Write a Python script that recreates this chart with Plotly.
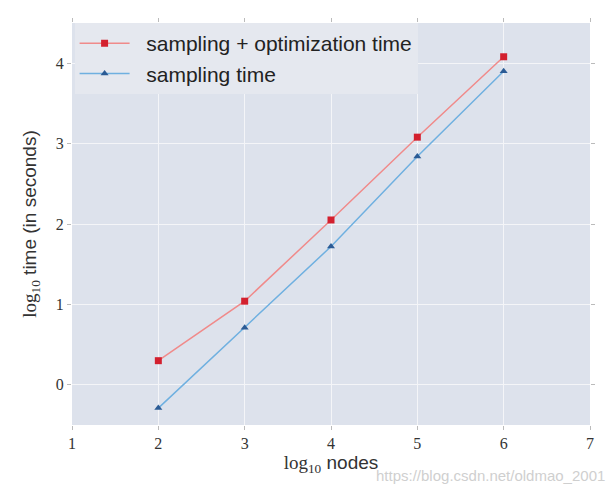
import plotly.graph_objects as go

nodes = [2, 3, 4, 5, 6]
total_time = [0.30, 1.04, 2.05, 3.08, 4.08]
sampling_time = [-0.29, 0.71, 1.72, 2.84, 3.90]
x_ticks = [1, 2, 3, 4, 5, 6, 7]
y_ticks = [0, 1, 2, 3, 4]

fig = go.Figure()
fig.add_trace(go.Scatter(
    x=nodes, y=total_time, mode="lines+markers",
    name="  sampling + optimization time",
    line=dict(color="#f08a8a", width=1.5),
    marker=dict(symbol="square", size=7, color="#d3202e"),
))
fig.add_trace(go.Scatter(
    x=nodes, y=sampling_time, mode="lines+markers",
    name="  sampling time",
    line=dict(color="#6fb0e0", width=1.5),
    marker=dict(symbol="triangle-up", size=7, color="#2b5b95"),
))

axis_common = dict(
    showgrid=True, gridcolor="#f4f5f8", gridwidth=1.2,
    zeroline=False, ticks="outside", ticklen=4, tickcolor="#bbbbbb",
    mirror="ticks", showline=True, linecolor="rgba(0,0,0,0)",
    tickfont=dict(family="Liberation Serif", size=16, color="#333333"),
)

fig.update_layout(
    width=611, height=491,
    margin=dict(l=72, r=21, t=23, b=66),
    paper_bgcolor="white",
    plot_bgcolor="#dde2ec",
    showlegend=True,
    legend=dict(
        x=0.005, y=1.0, xanchor="left", yanchor="top",
        bgcolor="#e5e8ef", borderwidth=0,
        font=dict(family="Liberation Sans", size=21, color="#222222"),
        itemwidth=50, tracegroupgap=4,
    ),
    xaxis=dict(
        range=[1, 7], tickvals=x_ticks,
        title=dict(
            text="<span style='font-family:Liberation Serif'>log<sub>10</sub></span> nodes",
            font=dict(family="Liberation Sans", size=19, color="#333333"),
            standoff=4,
        ),
        **axis_common,
    ),
    yaxis=dict(
        range=[-0.5, 4.5], tickvals=y_ticks,
        title=dict(
            text="<span style='font-family:Liberation Serif'>log<sub>10</sub></span> time (in seconds)",
            font=dict(family="Liberation Sans", size=19, color="#333333"),
            standoff=14,
        ),
        **axis_common,
    ),
)

fig.add_annotation(
    x=1.0, y=0, xref="paper", yref="paper", xanchor="right", yanchor="top",
    yshift=-40, xshift=17,
    text="https://blog.csdn.net/oldmao_2001", showarrow=False,
    font=dict(family="Liberation Sans", size=15, color="#cfcfcf"),
)

fig.write_html("out.html")
